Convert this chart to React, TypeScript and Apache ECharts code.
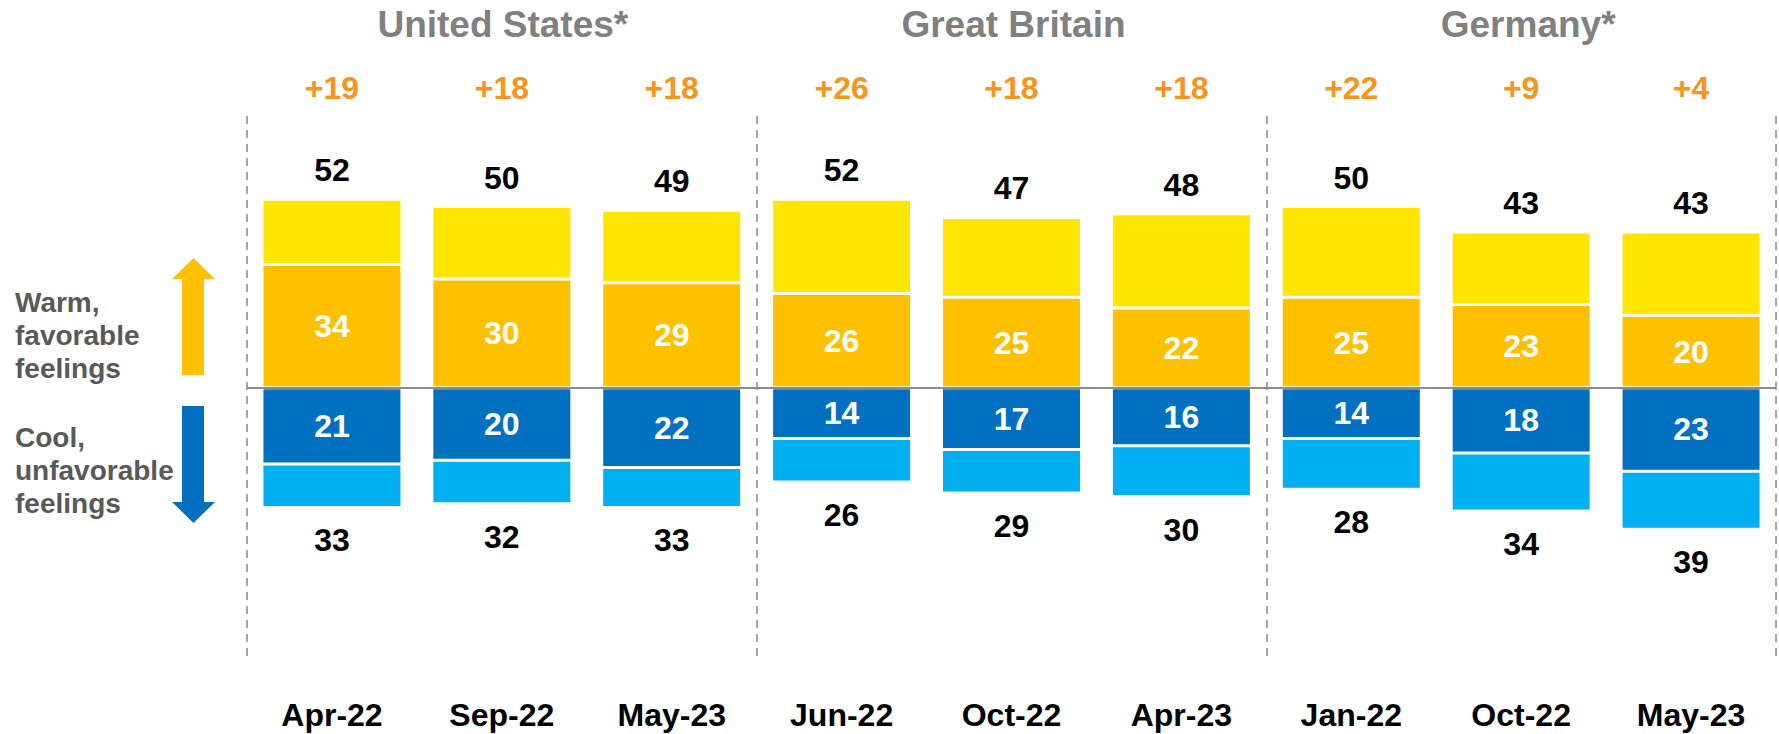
import React, { useEffect, useRef } from "react";
import * as echarts from "echarts";

const groups = ["United States*", "Great Britain", "Germany*"];
const categories = ["Apr-22", "Sep-22", "May-23", "Jun-22", "Oct-22", "Apr-23", "Jan-22", "Oct-22", "May-23"];
const netLabels = ["+19", "+18", "+18", "+26", "+18", "+18", "+22", "+9", "+4"];
const warmTotal = [52, 50, 49, 52, 47, 48, 50, 43, 43];
const warmStrong = [34, 30, 29, 26, 25, 22, 25, 23, 20];
const coolTotal = [33, 32, 33, 26, 29, 30, 28, 34, 39];
const coolStrong = [21, 20, 22, 14, 17, 16, 14, 18, 23];

const FONT = "'Liberation Sans', Arial, sans-serif";
const GRID_LEFT = 247;
const GRID_RIGHT_X = 1776;
const GRID_TOP = 116;
const GRID_HEIGHT = 540;

export default function App() {
  const ref = useRef<HTMLDivElement>(null);
  useEffect(() => {
    document.body.style.margin = "0";
    if (!ref.current) return;
    const chart = echarts.init(ref.current, undefined, { renderer: "svg" });
    const warmRest = warmTotal.map((t, i) => t - warmStrong[i]);
    const coolRest = coolTotal.map((t, i) => -(t - coolStrong[i]));
    const coolStrongNeg = coolStrong.map((v) => -v);
    const numLabel = {
      fontFamily: FONT,
      fontWeight: "bold" as const,
      fontSize: 32,
    };
    const groupWidth = (GRID_RIGHT_X - GRID_LEFT) / 3;
    const titleX = [GRID_LEFT + groupWidth * 0.5 + 1, GRID_LEFT + groupWidth * 1.5 + 2, GRID_LEFT + groupWidth * 2.5 + 7];

    chart.setOption({
      animation: false,
      grid: {
        left: GRID_LEFT,
        width: GRID_RIGHT_X - GRID_LEFT,
        top: GRID_TOP,
        height: GRID_HEIGHT,
      },
      xAxis: [
        {
          type: "category",
          data: categories,
          position: "bottom",
          axisLine: { show: false, onZero: false },
          axisTick: { show: false },
          axisLabel: { ...numLabel, color: "#000", margin: 43, interval: 0 },
        },
        {
          type: "category",
          data: netLabels,
          position: "top",
          axisLine: { show: false, onZero: false },
          axisTick: { show: false },
          axisLabel: { ...numLabel, color: "#F7941D", margin: 12, interval: 0 },
        },
        {
          type: "value",
          min: 0,
          max: 9,
          interval: 3,
          position: "bottom",
          axisLine: { show: false, onZero: false },
          axisTick: { show: false },
          axisLabel: { show: false },
          splitLine: {
            show: true,
            lineStyle: { color: "#A6A6A6", width: 2, type: [8, 6] },
          },
        },
      ],
      yAxis: {
        type: "value",
        min: -74,
        max: 75,
        show: false,
      },
      series: [
        {
          name: "Warm strong",
          type: "bar",
          stack: "total",
          barWidth: 140,
          data: warmStrong,
          itemStyle: { color: "#FFC000", borderColor: "#fff", borderWidth: 1.5 },
          label: { show: true, position: "inside", color: "#fff", ...numLabel },
        },
        {
          name: "Warm somewhat",
          type: "bar",
          stack: "total",
          barWidth: 140,
          data: warmRest,
          itemStyle: { color: "#FFE500", borderColor: "#fff", borderWidth: 1.5 },
          label: {
            show: true,
            position: "top",
            distance: 13,
            color: "#000",
            ...numLabel,
            formatter: (p: any) => String(warmTotal[p.dataIndex]),
          },
        },
        {
          name: "Cool strong",
          type: "bar",
          stack: "total",
          barWidth: 140,
          data: coolStrongNeg,
          itemStyle: { color: "#0070C0", borderColor: "#fff", borderWidth: 1.5 },
          label: {
            show: true,
            position: "inside",
            color: "#fff",
            ...numLabel,
            formatter: (p: any) => String(coolStrong[p.dataIndex]),
          },
        },
        {
          name: "Cool somewhat",
          type: "bar",
          stack: "total",
          barWidth: 140,
          data: coolRest,
          itemStyle: { color: "#00B0F0", borderColor: "#fff", borderWidth: 1.5 },
          label: {
            show: true,
            position: "bottom",
            distance: 17,
            color: "#000",
            ...numLabel,
            formatter: (p: any) => String(coolTotal[p.dataIndex]),
          },
        },
        {
          name: "zero",
          type: "line",
          data: [],
          z: 10,
          markLine: {
            silent: true,
            symbol: "none",
            label: { show: false },
            lineStyle: { color: "#8C8C8C", width: 2, type: "solid" },
            data: [{ yAxis: 0 }],
          },
        },
      ],
      graphic: [
        ...groups.map((g, i) => ({
          type: "text",
          x: titleX[i],
          y: 24,
          style: {
            text: g,
            fill: "#808080",
            font: `bold 37px ${FONT}`,
            textAlign: "center",
            textVerticalAlign: "middle",
          },
        })),
        {
          type: "text",
          x: 15,
          y: 335,
          style: {
            text: "Warm,\nfavorable\nfeelings",
            fill: "#595959",
            font: `bold 28px ${FONT}`,
            lineHeight: 33,
            textAlign: "left",
            textVerticalAlign: "middle",
          },
        },
        {
          type: "text",
          x: 15,
          y: 470,
          style: {
            text: "Cool,\nunfavorable\nfeelings",
            fill: "#595959",
            font: `bold 28px ${FONT}`,
            lineHeight: 33,
            textAlign: "left",
            textVerticalAlign: "middle",
          },
        },
        {
          type: "polygon",
          shape: {
            points: [
              [193.5, 258], [215, 279], [204, 279], [204, 375],
              [182, 375], [182, 279], [172, 279],
            ],
          },
          style: { fill: "#FFC000" },
        },
        {
          type: "polygon",
          shape: {
            points: [
              [182, 406], [204, 406], [204, 502], [215, 502],
              [193.5, 523], [172, 502], [182, 502],
            ],
          },
          style: { fill: "#0070C0" },
        },
      ],
    });
    return () => chart.dispose();
  }, []);
  return <div ref={ref} style={{ width: 1779, height: 734 }} />;
}
